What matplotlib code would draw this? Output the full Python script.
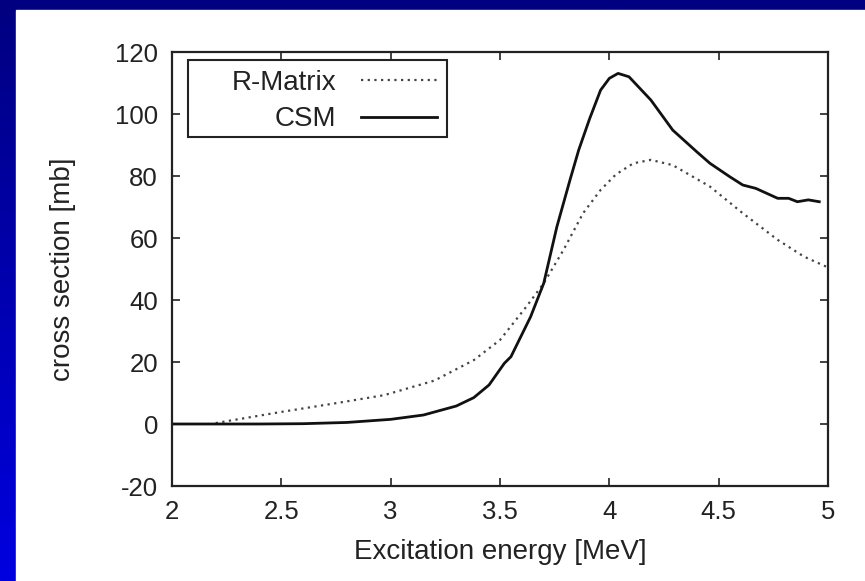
import numpy as np
import matplotlib
matplotlib.use('Agg')
import matplotlib.pyplot as plt
from matplotlib.patches import Rectangle
from matplotlib.colors import LinearSegmentedColormap

plt.rcParams['font.family'] = ['Liberation Sans', 'DejaVu Sans']
plt.rcParams['axes.unicode_minus'] = False

# R-Matrix curve (dotted)
rm_x = [2.20, 2.50, 2.74, 2.97, 3.20, 3.38, 3.50, 3.62, 3.70, 3.79, 3.88,
        3.96, 4.03, 4.11, 4.19, 4.29, 4.46, 4.61, 4.77, 4.89, 5.00]
rm_y = [0.3, 3.9, 6.6, 9.3, 14.0, 20.6, 27.1, 37.8, 45.4, 56.1, 68.0,
        75.5, 80.5, 84.1, 85.2, 83.5, 76.6, 68.0, 59.4, 54.0, 50.5]

# CSM curve (solid)
csm_x = [2.00, 2.40, 2.60, 2.80, 3.00, 3.15, 3.30, 3.38, 3.45, 3.52, 3.55,
         3.64, 3.70, 3.76, 3.82, 3.86, 3.91, 3.96, 4.00, 4.04, 4.09, 4.19,
         4.29, 4.40, 4.46, 4.55, 4.61, 4.67, 4.77, 4.82, 4.86, 4.91, 4.96]
csm_y = [0.0, 0.0, 0.1, 0.5, 1.5, 2.9, 5.8, 8.5, 12.6, 19.6, 21.7,
         34.6, 45.4, 63.6, 78.7, 88.4, 98.5, 107.7, 111.5, 113.1, 112.0, 104.5,
         94.8, 87.8, 84.1, 79.8, 77.1, 76.0, 72.8, 72.8, 71.7, 72.3, 71.7]

xticks = [2, 2.5, 3, 3.5, 4, 4.5, 5]
xtick_labels = ['2', '2.5', '3', '3.5', '4', '4.5', '5']
yticks = [-20, 0, 20, 40, 60, 80, 100, 120]

fig = plt.figure(figsize=(8.65, 5.81), dpi=100)

# blue slide background with white panel
bg = fig.add_axes([0, 0, 1, 1], zorder=-10)
cmap = LinearSegmentedColormap.from_list('slide', ['#000080', '#0000e0'])
bg.imshow(np.linspace(0, 1, 256).reshape(-1, 1), aspect='auto', cmap=cmap,
          extent=[0, 1, 0, 1])
bg.add_patch(Rectangle((16 / 865, 0), 1, 1 - 10 / 581, color='white'))
bg.set_xlim(0, 1)
bg.set_ylim(0, 1)
bg.axis('off')

ax = fig.add_axes([172 / 865, 1 - 486 / 581, 656 / 865, 434 / 581])
ax.plot(rm_x, rm_y, color='#444444', lw=1.6, linestyle=(0, (1, 2)), label='R-Matrix')
ax.plot(csm_x, csm_y, color='#111111', lw=2.0, label='CSM')

ax.set_xlim(2, 5)
ax.set_ylim(-20, 120)
ax.set_xticks(xticks)
ax.set_xticklabels(xtick_labels)
ax.set_yticks(yticks)
ax.tick_params(direction='in', length=6, width=1.2, top=True, right=True,
               labelsize=18.5, colors='#222222', pad=10)
for s in ax.spines.values():
    s.set_linewidth(1.6)
    s.set_color('#222222')

ax.set_xlabel('Excitation energy [MeV]', fontsize=20, color='#222222', labelpad=11)
ax.set_ylabel('cross section [mb]', fontsize=20, color='#222222', labelpad=28)

# gnuplot-style key: labels right-aligned, sample on the right, wide box
leg = ax.legend(loc='upper right', bbox_to_anchor=(275 / 656, 426 / 434),
                markerfirst=False, fontsize=20, frameon=False,
                handlelength=2.75, borderpad=0.35, labelspacing=0.38,
                borderaxespad=0, handletextpad=0.9)
for t in leg.get_texts():
    t.set_color('#222222')
ax.add_patch(Rectangle((16 / 656, 349 / 434), 259 / 656, 77 / 434,
                       transform=ax.transAxes, fill=False,
                       edgecolor='#222222', lw=1.5, zorder=5))

fig.savefig('out.png', dpi=100)
